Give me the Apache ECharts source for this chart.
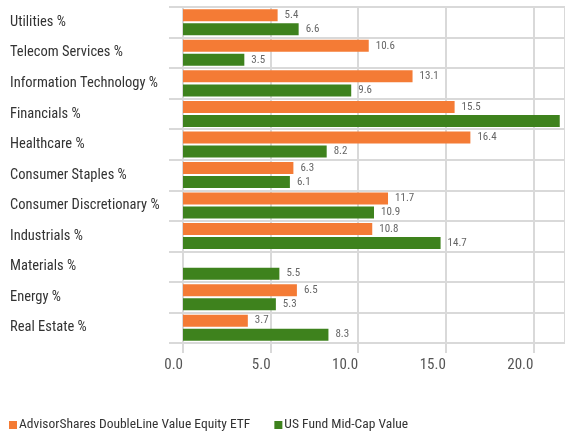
<!DOCTYPE html>
<html>
<head>
<meta charset="utf-8">
<script src="https://cdn.jsdelivr.net/npm/echarts@6/dist/echarts.min.js"></script>
<style>
  html, body { margin: 0; padding: 0; background: #fff; }
  #main { width: 565px; height: 431px; }
</style>
</head>
<body>
<div id="main"></div>
<script>
var categories = [
    "Utilities %", "Telecom Services %", "Information Technology %", "Financials %",
    "Healthcare %", "Consumer Staples %", "Consumer Discretionary %", "Industrials %",
    "Materials %", "Energy %", "Real Estate %"
];
var fundName = "AdvisorShares DoubleLine Value Equity ETF";
var categoryName = "US Fund Mid-Cap Value";
var fundValues = [5.4, 10.6, 13.1, 15.5, 16.4, 6.3, 11.7, 10.8, null, 6.5, 3.7];
var categoryValues = [6.6, 3.5, 9.6, 21.5, 8.2, 6.1, 10.9, 14.7, 5.5, 5.3, 8.3];
var xTicks = [0, 5, 10, 15, 20];

// look for a narrow face, the reference uses a condensed sans
var ctx = document.createElement("canvas").getContext("2d");
function textWidth(f) { ctx.font = f; return ctx.measureText("Information Technology %").width; }
var narrow = ["Roboto Condensed", "Liberation Sans Narrow", "Arial Narrow", "DejaVu Sans Condensed"];
var font = "Roboto, sans-serif";
for (var i = 0; i < narrow.length; i++) {
    if (textWidth("15px '" + narrow[i] + "', monospace") !== textWidth("15px monospace")) {
        font = "'" + narrow[i] + "', Roboto, sans-serif";
        break;
    }
}
// pick sizes so the long texts take the width they take in the reference
function fitSize(text, target, maxSize) {
    ctx.font = "20px " + font;
    var s = 20 * target / ctx.measureText(text).width;
    return Math.min(maxSize, Math.round(s * 2) / 2);
}
var labelSize = fitSize("Information Technology %", 147, 15);
var legendSize = fitSize(fundName, 231, 15);

var gridGray = "#d9d9d9";

var myChart = echarts.init(document.getElementById("main"));

function valueLabel() {
    return {
        show: true,
        position: "right",
        distance: 7,
        fontFamily: font,
        fontSize: 11,
        color: "#666",
        formatter: function (p) { return p.value == null ? "" : p.value.toFixed(1); }
    };
}

var option = {
    animation: false,
    grid: { left: 183, right: 0, top: 7, bottom: 88, containLabel: false },
    legend: {
        bottom: -6,
        left: 4,
        icon: "rect",
        itemWidth: 8,
        itemHeight: 8,
        itemGap: 24,
        textStyle: { fontFamily: font, fontSize: legendSize, color: "#333", padding: [0, 0, 0, -3] },
        data: [fundName, categoryName]
    },
    xAxis: {
        type: "value",
        min: 0,
        max: 21.8,
        interval: 5,
        axisLine: { show: true, lineStyle: { color: gridGray, width: 2 } },
        axisTick: { show: true, length: 10, lineStyle: { color: gridGray, width: 2 } },
        splitLine: { show: true, lineStyle: { color: gridGray, width: 2 } },
        axisLabel: {
            align: "right",
            margin: 15,
            fontFamily: font,
            fontSize: 15,
            color: "#555",
            showMaxLabel: false,
            formatter: function (v) { return xTicks.indexOf(v) >= 0 ? v.toFixed(1) : ""; }
        }
    },
    yAxis: {
        type: "category",
        inverse: true,
        data: categories,
        axisLine: { show: true, lineStyle: { color: gridGray, width: 2 } },
        axisTick: { show: true, length: 14, lineStyle: { color: gridGray, width: 2 } },
        splitLine: { show: true, lineStyle: { color: gridGray, width: 2 } },
        axisLabel: {
            align: "left",
            margin: 173,
            fontFamily: font,
            fontSize: labelSize,
            color: "#333"
        }
    },
    series: [
        {
            name: fundName,
            type: "bar",
            data: fundValues,
            barWidth: 12,
            barGap: "17%",
            itemStyle: { color: "#f47b35" },
            label: valueLabel()
        },
        {
            name: categoryName,
            type: "bar",
            data: categoryValues,
            barWidth: 12,
            barGap: "17%",
            itemStyle: { color: "#3e821d" },
            label: valueLabel()
        }
    ]
};

myChart.setOption(option);
window.addEventListener("resize", function () { myChart.resize(); });
</script>
</body>
</html>
